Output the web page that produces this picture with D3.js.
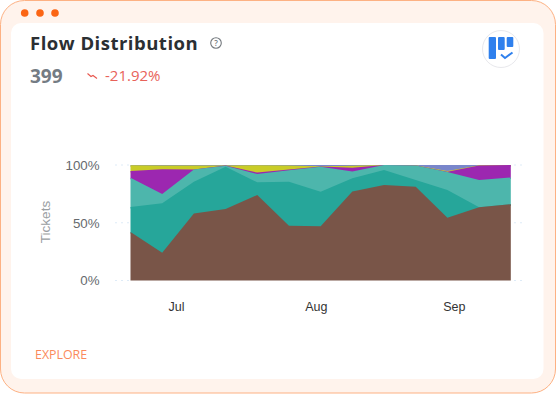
<!DOCTYPE html>
<html><head><meta charset="utf-8">
<script src="https://cdn.jsdelivr.net/npm/d3@7"></script>
<style>html,body{margin:0;padding:0;background:#fff}svg{display:block}text{font-family:"Open Sans",sans-serif}</style>
</head><body><svg id="c" width="556" height="394"></svg>
<script>
const months = ["Jul","Aug","Sep"];
const monthIndex = [1.436,5.85,10.2];
const yTicks = [0,50,100];
const brown = [42,24,58,62,74,47.5,47,77,82.7,81.2,54.4,63.4,66];
const teal = [21.6,42.8,27.5,36.5,11,38,29.9,11.5,13,5.8,24,0,0];
const lightTeal = [25.4,8.2,10.5,0.8,7.2,9.9,21.6,5.8,4.3,12.5,15.6,23.6,23.2];
const purple = [5.8,21.3,0.2,0.2,1.2,0.6,0.3,3.4,0,0.1,0.1,12.6,10.8];
const yellow = [4.9,3.3,3.4,0.1,6.4,3.5,0.2,1.7,0,0.2,0.8,0.2,0];
const blue = [0.3,0.4,0.4,0.4,0.2,0.5,1,0.6,0,0.2,5.1,0.2,0];
const seriesNames = ["brown","teal","lightTeal","purple","yellow","blue"];
const seriesValues = [brown,teal,lightTeal,purple,yellow,blue];
const seriesColors = ["#795548","#26a69a","#4db6ac","#9c27b0","#c9cc27","#7986cb"];

const svg = d3.select("#c");
// card frame
svg.append("rect").attr("x",0.5).attr("y",0.5).attr("width",555).attr("height",392.5).attr("rx",24)
  .attr("fill","#fff3ec").attr("stroke","#fdb183");
svg.append("rect").attr("x",11).attr("y",23).attr("width",532.5).attr("height",356).attr("rx",10).attr("fill","#fff");
[24.7,40,55].forEach(x=>svg.append("circle").attr("cx",x).attr("cy",13).attr("r",3.8).attr("fill","#fb6514"));

svg.append("text").attr("x",30).attr("y",50).attr("font-size",18.5).attr("font-weight",700).attr("fill","#2b2f33").attr("letter-spacing",0.5).text("Flow Distribution");
const q = svg.append("g").attr("transform","translate(216,43)");
q.append("circle").attr("r",5.3).attr("fill","none").attr("stroke","#74797e").attr("stroke-width",1.1);
q.append("text").attr("text-anchor","middle").attr("y",3).attr("font-size",8).attr("font-weight",600).attr("fill","#74797e").text("?");
svg.append("text").attr("x",30).attr("y",83).attr("font-size",19).attr("font-weight",700).attr("fill","#747c84").text("399");
svg.append("path").attr("d","M87.5 73.5 L91 76.5 L93 75.5 L97 78.5").attr("fill","none").attr("stroke","#e8584f").attr("stroke-width",1.1);
svg.append("text").attr("x",105).attr("y",81).attr("font-size",15).attr("fill","#e8625a").text("-21.92%");

// badge
const b = svg.append("g").attr("transform","translate(501,49)");
b.append("circle").attr("r",18.5).attr("fill","#fff").attr("stroke","#e8e8ec").attr("stroke-width",1);
b.append("rect").attr("x",-12.3).attr("y",-12).attr("width",7.3).attr("height",22).attr("rx",1).attr("fill","#2f80ed");
b.append("rect").attr("x",-3).attr("y",-12).attr("width",6.7).attr("height",13).attr("rx",1).attr("fill","#2f80ed");
b.append("rect").attr("x",5.7).attr("y",-12).attr("width",6.6).attr("height",10).attr("rx",1).attr("fill","#2f80ed");
b.append("path").attr("d","M0 5.5 L4 9 L11.5 3.5").attr("fill","none").attr("stroke","#2f80ed").attr("stroke-width",2);

svg.append("text").attr("x",35).attr("y",359).attr("font-size",12.4).attr("font-weight",500).attr("fill","#fb8a5c").text("EXPLORE");

// chart
const x = d3.scaleLinear().domain([0,brown.length-1]).range([130.5,510.8]);
const y = d3.scaleLinear().domain([0,100]).range([280.5,165]);
const rows = brown.map((_,i)=>{const o={i};seriesNames.forEach((n,k)=>o[n]=seriesValues[k][i]);return o;});
const stack = d3.stack().keys(seriesNames).offset(d3.stackOffsetExpand);
// each layer overlaps slightly under the one below it (painted top layer first), so no seams show
const area = d3.area().x(d=>x(d.data.i)).y0(d=>Math.min(y(0),y(d[0]*100)+1.5)).y1(d=>y(d[1]*100));
const layers = stack(rows).map((s,i)=>({s,color:seriesColors[i]})).reverse();
svg.append("g").selectAll("path").data(layers).join("path").attr("d",d=>area(d.s)).attr("fill",d=>d.color);

// dotted stubs of the grid lines
[[115,130],[514,524]].forEach(([a,c])=>{
  svg.append("g").selectAll("line").data(yTicks).join("line")
    .attr("x1",a).attr("x2",c).attr("y1",d=>y(d)).attr("y2",d=>y(d))
    .attr("stroke","#deebf7").attr("stroke-dasharray","2 4");
});

const yAxis = svg.append("g").attr("transform","translate(99.5,0)").call(d3.axisLeft(y).tickValues(yTicks).tickFormat(d=>d+"%").tickSize(0).tickPadding(0));
yAxis.select(".domain").remove();
yAxis.selectAll("text").style("font-family","'Liberation Sans'").attr("font-size",13.3).attr("fill","#666a6e");
const xAxis = svg.append("g").attr("transform","translate(0,280.5)").call(d3.axisBottom(x).tickValues(monthIndex).tickFormat((d,i)=>months[i]).tickSize(0).tickPadding(22));
xAxis.select(".domain").remove();
xAxis.selectAll("text").style("font-family","'Liberation Sans'").attr("font-size",12.5).attr("fill","#333");
svg.append("text").attr("transform","translate(50,222) rotate(-90)").attr("text-anchor","middle").style("font-family","'Liberation Sans'").attr("font-size",13.5).attr("fill","#9a9ea2").text("Tickets");
</script></body></html>
